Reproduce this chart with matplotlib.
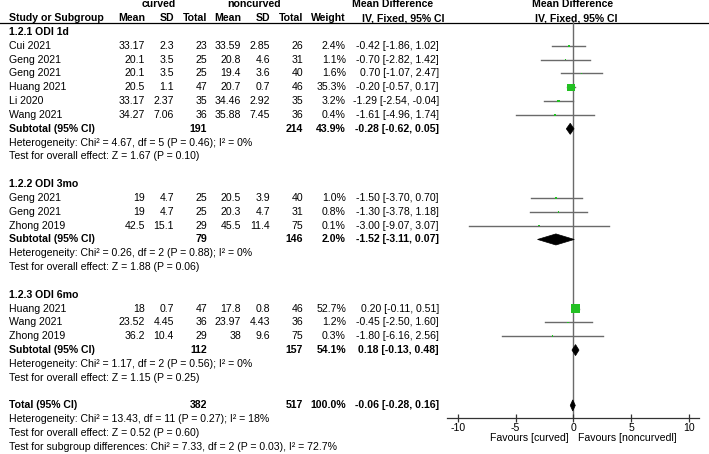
import numpy as np
import matplotlib
matplotlib.use("Agg")
import matplotlib.pyplot as plt
from matplotlib.patches import Polygon
import matplotlib.transforms as mtransforms

plt.rcParams['font.family'] = ['Liberation Sans', 'DejaVu Sans']

# study level data
group = [0, 0, 0, 0, 0, 0, 1, 1, 1, 2, 2, 2]
study = ['Cui 2021', 'Geng 2021', 'Geng 2021', 'Huang 2021', 'Li 2020', 'Wang 2021',
         'Geng 2021', 'Geng 2021', 'Zhong 2019',
         'Huang 2021', 'Wang 2021', 'Zhong 2019']
m1 = [33.17, 20.1, 20.1, 20.5, 33.17, 34.27, 19, 19, 42.5, 18, 23.52, 36.2]
sd1 = [2.3, 3.5, 3.5, 1.1, 2.37, 7.06, 4.7, 4.7, 15.1, 0.7, 4.45, 10.4]
n1 = [23, 25, 25, 47, 35, 36, 25, 25, 29, 47, 36, 29]
m2 = [33.59, 20.8, 19.4, 20.7, 34.46, 35.88, 20.5, 20.3, 45.5, 17.8, 23.97, 38]
sd2 = [2.85, 4.6, 3.6, 0.7, 2.92, 7.45, 3.9, 4.7, 11.4, 0.8, 4.43, 9.6]
n2 = [26, 31, 40, 46, 35, 36, 40, 31, 75, 46, 36, 75]
weight = [2.4, 1.1, 1.6, 35.3, 3.2, 0.4, 1.0, 0.8, 0.1, 52.7, 1.2, 0.3]
md = [-0.42, -0.70, 0.70, -0.20, -1.29, -1.61, -1.50, -1.30, -3.00, 0.20, -0.45, -1.80]
lo = [-1.86, -2.82, -1.07, -0.57, -2.54, -4.96, -3.70, -3.78, -9.07, -0.11, -2.50, -6.16]
hi = [1.02, 1.42, 2.47, 0.17, -0.04, 1.74, 0.70, 1.18, 3.07, 0.51, 1.60, 2.56]

# subgroup data
sub_names = ['1.2.1 ODI 1d', '1.2.2 ODI 3mo', '1.2.3 ODI 6mo']
sub_n1 = [191, 79, 112]
sub_n2 = [214, 146, 157]
sub_w = [43.9, 2.0, 54.1]
sub_md = [-0.28, -1.52, 0.18]
sub_lo = [-0.62, -3.11, -0.13]
sub_hi = [0.05, 0.07, 0.48]
sub_chi2 = [4.67, 0.26, 1.17]
sub_df = [5, 2, 2]
sub_p = [0.46, 0.88, 0.56]
sub_i2 = [0, 0, 0]
sub_z = [1.67, 1.88, 1.15]
sub_zp = [0.10, 0.06, 0.25]

# overall
tot_n1, tot_n2, tot_w = 382, 517, 100.0
tot_md, tot_lo, tot_hi = -0.06, -0.28, 0.16
tot_chi2, tot_df, tot_p, tot_i2 = 13.43, 11, 0.27, 18
tot_z, tot_zp = 0.52, 0.60
diff_chi2, diff_df, diff_p, diff_i2 = 7.33, 2, 0.03, 72.7

FS = 7.6
W, H = 709, 454
fig = plt.figure(figsize=(W / 100, H / 100), dpi=100)

# text table, in pixel coordinates
tab = fig.add_axes([0, 0, 1, 1])
tab.set_xlim(0, W)
tab.set_ylim(H, 0)
tab.axis('off')

ROW0, DY = 32.0, 13.83


def ypix(r):
    return ROW0 + DY * r


cols = [145, 174, 207, 241, 270, 303, 346]
x_ci = 439


def put(x, r, s, ha='right', bold=False):
    tab.text(x, ypix(r), s, ha=ha, va='center', fontsize=FS,
             fontweight='bold' if bold else 'normal')


# header
tab.text(158.5, ypix(-2), 'curved', ha='center', va='center', fontsize=FS, fontweight='bold')
tab.text(254.5, ypix(-2), 'noncurved', ha='center', va='center', fontsize=FS, fontweight='bold')
tab.text(393, ypix(-2), 'Mean Difference', ha='center', va='center', fontsize=FS, fontweight='bold')
tab.text(573, ypix(-2), 'Mean Difference', ha='center', va='center', fontsize=FS, fontweight='bold')
put(9, -1, 'Study or Subgroup', ha='left', bold=True)
for x, s in zip(cols, ['Mean', 'SD', 'Total', 'Mean', 'SD', 'Total', 'Weight']):
    put(x, -1, s, bold=True)
tab.text(403, ypix(-1), 'IV, Fixed, 95% CI', ha='center', va='center', fontsize=FS, fontweight='bold')
tab.text(576, ypix(-1), 'IV, Fixed, 95% CI', ha='center', va='center', fontsize=FS, fontweight='bold')
tab.plot([0, W], [22.5, 22.5], color='black', lw=0.9)

# forest axes, rows as y units
x_left, x_right, y_top, y_axis = 447, 699, 22, 417.7
fx = fig.add_axes([x_left / W, (H - y_axis) / H, (x_right - x_left) / W, (y_axis - y_top) / H])
fx.set_xlim(-10.95, 10.87)
fx.set_ylim((y_axis - ROW0) / DY, (y_top - ROW0) / DY)
for sp in ['top', 'left', 'right']:
    fx.spines[sp].set_visible(False)
fx.spines['bottom'].set_color('#333333')
fx.spines['bottom'].set_linewidth(0.9)
fx.set_yticks([])
fx.set_xticks([-10, -5, 0, 5, 10])
fx.set_xticklabels(['-10', '-5', '0', '5', '10'])
fx.tick_params(axis='x', direction='inout', length=6, width=0.9, color='#333333',
               labelsize=FS, pad=1)
fx.patch.set_alpha(0)
fx.axvline(0, color='#6a6a6a', lw=1.0, zorder=1)

trans = mtransforms.blended_transform_factory(fx.transData, fx.transAxes)
fx.text(-0.4, -0.051, 'Favours [curved]', ha='right', va='center', fontsize=FS, transform=trans)
fx.text(0.4, -0.051, 'Favours [noncurvedl]', ha='left', va='center', fontsize=FS, transform=trans)


def diamond(r, m, a, b):
    h = 0.4
    fx.add_patch(Polygon([[a, r], [m, r - h], [b, r], [m, r + h]], closed=True,
                         facecolor='black', edgecolor='black', lw=0.5, zorder=3))


r = 0
idx = np.array(group)
for g in range(3):
    put(9, r, sub_names[g], ha='left', bold=True)
    r += 1
    for i in np.where(idx == g)[0]:
        put(9, r, study[i], ha='left')
        vals = [m1[i], sd1[i], n1[i], m2[i], sd2[i], n2[i]]
        for x, v in zip(cols[:6], vals):
            put(x, r, f'{v:g}')
        put(cols[6], r, f'{weight[i]:.1f}%')
        put(x_ci, r, f'{md[i]:.2f} [{lo[i]:.2f}, {hi[i]:.2f}]')
        fx.plot([lo[i], hi[i]], [r, r], color='#6a6a6a', lw=1.0, zorder=2)
        side = max(1.24 * np.sqrt(weight[i]), 1.6) * 0.72
        fx.scatter([md[i]], [r], marker='s', s=side ** 2, color='#22c022',
                   edgecolors='none', zorder=4)
        r += 1
    put(9, r, 'Subtotal (95% CI)', ha='left', bold=True)
    put(cols[2], r, f'{sub_n1[g]}', bold=True)
    put(cols[5], r, f'{sub_n2[g]}', bold=True)
    put(cols[6], r, f'{sub_w[g]:.1f}%', bold=True)
    put(x_ci, r, f'{sub_md[g]:.2f} [{sub_lo[g]:.2f}, {sub_hi[g]:.2f}]', bold=True)
    diamond(r, sub_md[g], sub_lo[g], sub_hi[g])
    r += 1
    put(9, r, f'Heterogeneity: Chi\u00b2 = {sub_chi2[g]:.2f}, df = {sub_df[g]} '
              f'(P = {sub_p[g]:.2f}); I\u00b2 = {sub_i2[g]}%', ha='left')
    r += 1
    put(9, r, f'Test for overall effect: Z = {sub_z[g]:.2f} (P = {sub_zp[g]:.2f})', ha='left')
    r += 2

put(9, r, 'Total (95% CI)', ha='left', bold=True)
put(cols[2], r, f'{tot_n1}', bold=True)
put(cols[5], r, f'{tot_n2}', bold=True)
put(cols[6], r, f'{tot_w:.1f}%', bold=True)
put(x_ci, r, f'{tot_md:.2f} [{tot_lo:.2f}, {tot_hi:.2f}]', bold=True)
diamond(r, tot_md, tot_lo, tot_hi)
r += 1
put(9, r, f'Heterogeneity: Chi\u00b2 = {tot_chi2:.2f}, df = {tot_df} (P = {tot_p:.2f}); '
          f'I\u00b2 = {tot_i2}%', ha='left')
r += 1
put(9, r, f'Test for overall effect: Z = {tot_z:.2f} (P = {tot_zp:.2f})', ha='left')
r += 1
put(9, r, f'Test for subgroup differences: Chi\u00b2 = {diff_chi2:.2f}, df = {diff_df} '
          f'(P = {diff_p:.2f}), I\u00b2 = {diff_i2:.1f}%', ha='left')

fig.savefig('out.png', dpi=100)
